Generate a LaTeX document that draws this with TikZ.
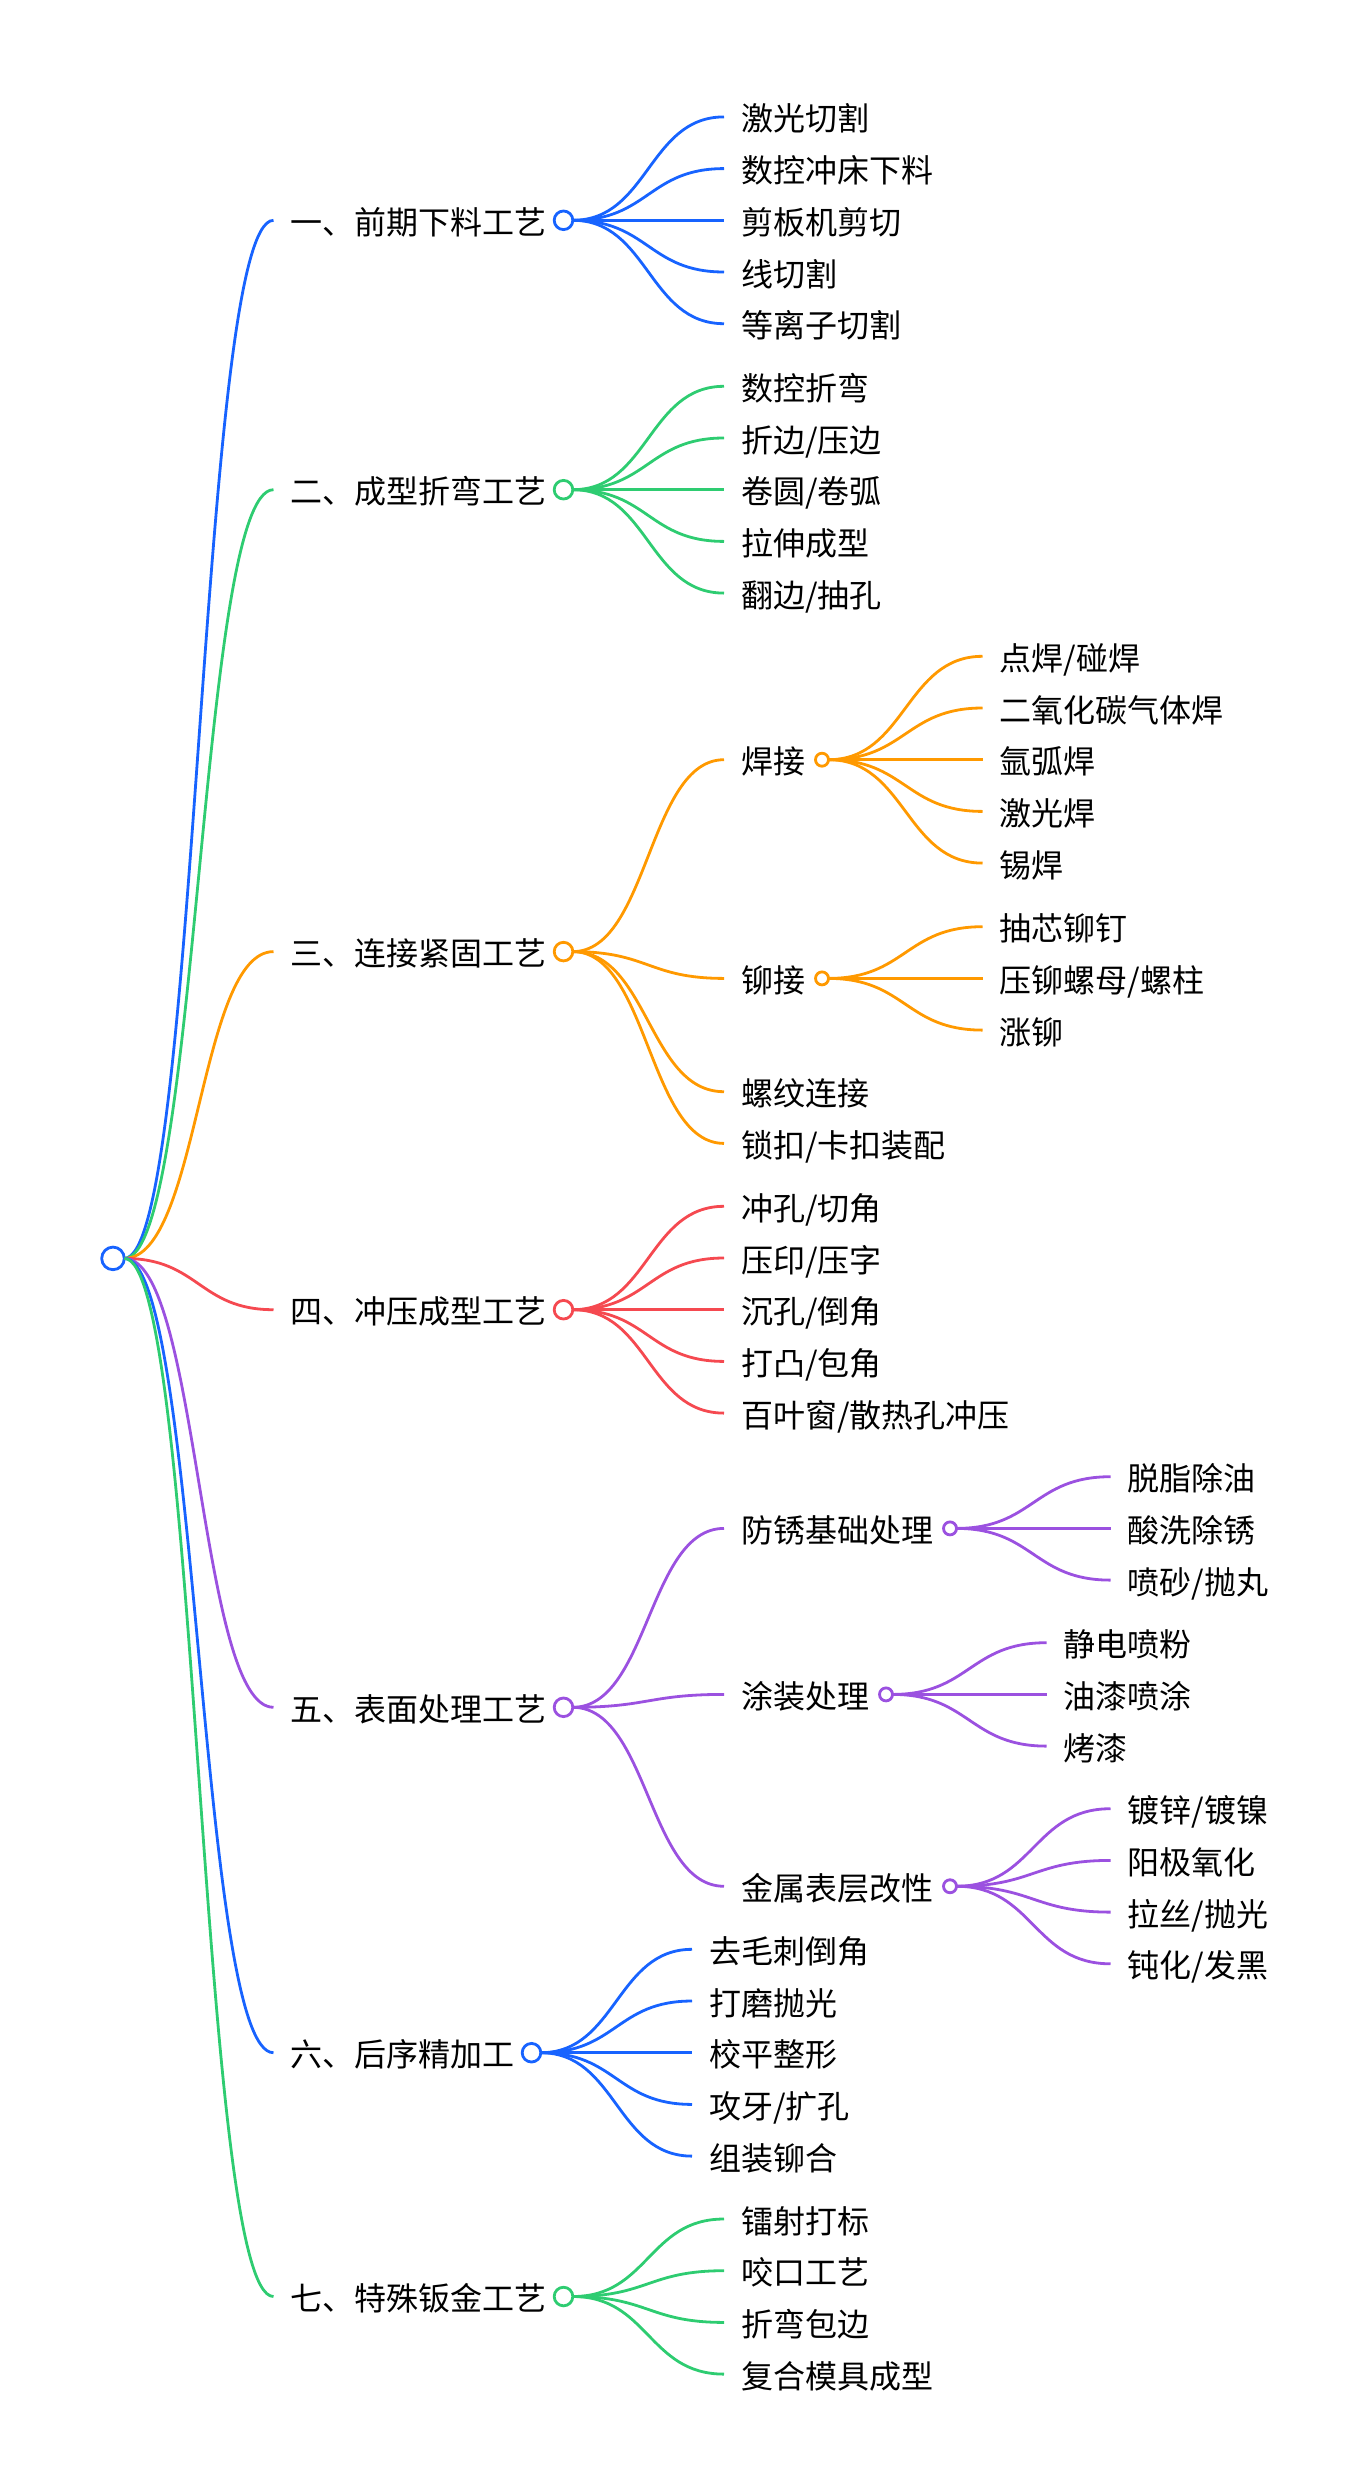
\documentclass[tikz,border=0pt]{standalone}
\usepackage{fontspec}
\setmainfont{Noto Sans CJK SC}
\usetikzlibrary{calc}
\definecolor{cb}{RGB}{23,99,255}
\definecolor{cg}{RGB}{46,204,113}
\definecolor{co}{RGB}{255,153,0}
\definecolor{cr}{RGB}{245,73,80}
\definecolor{cp}{RGB}{155,81,224}
\tikzset{
  lbl/.style={anchor=west, inner sep=0pt, outer xsep=17pt, outer ysep=0pt,
    font=\fontsize{32}{38}\selectfont, text height=32pt, text depth=4pt, text=black},
  hub/.style={circle, draw=#1, fill=white, line width=2.8pt, inner sep=0pt, outer sep=0pt, minimum size=18.6pt},
  hubs/.style={hub=#1, minimum size=13pt},
  rootdot/.style={hub=#1, minimum size=22.6pt},
  link/.style={draw=#1, line width=2.8pt},
}
\newcommand\mmlink[3]{\draw[link=#1] let \p1=(#2.east), \p2=(#3.west) in (\p1) .. controls ({(\x1+\x2)/2},\y1) and ({(\x1+\x2)/2},\y2) .. (\p2);}
\begin{document}
\begin{tikzpicture}[x=1pt,y=-1pt]
\useasboundingbox (0,0) rectangle (1366,2492);
\node[rootdot=cb] (root) at (113,1258.4) {};

% ---------- level 1
\node[lbl] (t1) at (273.5,220.3) {一、前期下料工艺};
\node[hub=cb] (c1) at (t1.east) {};
\node[lbl] (t2) at (273.5,489.7) {二、成型折弯工艺};
\node[hub=cg] (c2) at (t2.east) {};
\node[lbl] (t3) at (273.5,951.6) {三、连接紧固工艺};
\node[hub=co] (c3) at (t3.east) {};
\node[lbl] (t4) at (273.5,1309.7) {四、冲压成型工艺};
\node[hub=cr] (c4) at (t4.east) {};
\node[lbl] (t5) at (273.5,1707.3) {五、表面处理工艺};
\node[hub=cp] (c5) at (t5.east) {};
\node[lbl] (t6) at (273.5,2052.7) {六、后序精加工};
\node[hub=cb] (c6) at (t6.east) {};
\node[lbl] (t7) at (273.5,2296.5) {七、特殊钣金工艺};
\node[hub=cg] (c7) at (t7.east) {};

\mmlink{cb}{root}{t1}
\mmlink{cg}{root}{t2}
\mmlink{co}{root}{t3}
\mmlink{cr}{root}{t4}
\mmlink{cp}{root}{t5}
\mmlink{cb}{root}{t6}
\mmlink{cg}{root}{t7}

% ---------- group 1
\node[lbl] (t1a) at (724,116.9) {激光切割};
\node[lbl] (t1b) at (724,168.6) {数控冲床下料};
\node[lbl] (t1c) at (724,220.3) {剪板机剪切};
\node[lbl] (t1d) at (724,272.0) {线切割};
\node[lbl] (t1e) at (724,323.7) {等离子切割};
\foreach \nd in {t1a,t1b,t1c,t1d,t1e} {\mmlink{cb}{c1}{\nd}}

% ---------- group 2
\node[lbl] (t2a) at (724,386.3) {数控折弯};
\node[lbl] (t2b) at (724,438.0) {折边/压边};
\node[lbl] (t2c) at (724,489.7) {卷圆/卷弧};
\node[lbl] (t2d) at (724,541.4) {拉伸成型};
\node[lbl] (t2e) at (724,593.1) {翻边/抽孔};
\foreach \nd in {t2a,t2b,t2c,t2d,t2e} {\mmlink{cg}{c2}{\nd}}

% ---------- group 3
\node[lbl] (t3a) at (724,759.7) {焊接};
\node[hubs=co] (c3a) at (t3a.east) {};
\node[lbl] (t3b) at (724,978.4) {铆接};
\node[hubs=co] (c3b) at (t3b.east) {};
\node[lbl] (t3c) at (724,1091.7) {螺纹连接};
\node[lbl] (t3d) at (724,1143.4) {锁扣/卡扣装配};
\foreach \nd in {t3a,t3b,t3c,t3d} {\mmlink{co}{c3}{\nd}}

\node[lbl] (t3a1) at (982.5,656.3) {点焊/碰焊};
\node[lbl] (t3a2) at (982.5,708.0) {二氧化碳气体焊};
\node[lbl] (t3a3) at (982.5,759.7) {氩弧焊};
\node[lbl] (t3a4) at (982.5,811.4) {激光焊};
\node[lbl] (t3a5) at (982.5,863.1) {锡焊};
\foreach \nd in {t3a1,t3a2,t3a3,t3a4,t3a5} {\mmlink{co}{c3a}{\nd}}

\node[lbl] (t3b1) at (982.5,926.7) {抽芯铆钉};
\node[lbl] (t3b2) at (982.5,978.4) {压铆螺母/螺柱};
\node[lbl] (t3b3) at (982.5,1030.1) {涨铆};
\foreach \nd in {t3b1,t3b2,t3b3} {\mmlink{co}{c3b}{\nd}}

% ---------- group 4
\node[lbl] (t4a) at (724,1206.3) {冲孔/切角};
\node[lbl] (t4b) at (724,1258.0) {压印/压字};
\node[lbl] (t4c) at (724,1309.7) {沉孔/倒角};
\node[lbl] (t4d) at (724,1361.4) {打凸/包角};
\node[lbl] (t4e) at (724,1413.1) {百叶窗/散热孔冲压};
\foreach \nd in {t4a,t4b,t4c,t4d,t4e} {\mmlink{cr}{c4}{\nd}}

% ---------- group 5
\node[lbl] (t5a) at (724,1528.4) {防锈基础处理};
\node[hubs=cp] (c5a) at (t5a.east) {};
\node[lbl] (t5b) at (724,1694.4) {涂装处理};
\node[hubs=cp] (c5b) at (t5b.east) {};
\node[lbl] (t5c) at (724,1886.25) {金属表层改性};
\node[hubs=cp] (c5c) at (t5c.east) {};
\foreach \nd in {t5a,t5b,t5c} {\mmlink{cp}{c5}{\nd}}

\node[lbl] (t5a1) at (1110.5,1476.7) {脱脂除油};
\node[lbl] (t5a2) at (1110.5,1528.4) {酸洗除锈};
\node[lbl] (t5a3) at (1110.5,1580.1) {喷砂/抛丸};
\foreach \nd in {t5a1,t5a2,t5a3} {\mmlink{cp}{c5a}{\nd}}

\node[lbl] (t5b1) at (1046.5,1642.7) {静电喷粉};
\node[lbl] (t5b2) at (1046.5,1694.4) {油漆喷涂};
\node[lbl] (t5b3) at (1046.5,1746.1) {烤漆};
\foreach \nd in {t5b1,t5b2,t5b3} {\mmlink{cp}{c5b}{\nd}}

\node[lbl] (t5c1) at (1110.5,1808.7) {镀锌/镀镍};
\node[lbl] (t5c2) at (1110.5,1860.4) {阳极氧化};
\node[lbl] (t5c3) at (1110.5,1912.1) {拉丝/抛光};
\node[lbl] (t5c4) at (1110.5,1963.8) {钝化/发黑};
\foreach \nd in {t5c1,t5c2,t5c3,t5c4} {\mmlink{cp}{c5c}{\nd}}

% ---------- group 6
\node[lbl] (t6a) at (692,1949.3) {去毛刺倒角};
\node[lbl] (t6b) at (692,2001.0) {打磨抛光};
\node[lbl] (t6c) at (692,2052.7) {校平整形};
\node[lbl] (t6d) at (692,2104.4) {攻牙/扩孔};
\node[lbl] (t6e) at (692,2156.1) {组装铆合};
\foreach \nd in {t6a,t6b,t6c,t6d,t6e} {\mmlink{cb}{c6}{\nd}}

% ---------- group 7
\node[lbl] (t7a) at (724,2219.0) {镭射打标};
\node[lbl] (t7b) at (724,2270.7) {咬口工艺};
\node[lbl] (t7c) at (724,2322.4) {折弯包边};
\node[lbl] (t7d) at (724,2374.1) {复合模具成型};
\foreach \nd in {t7a,t7b,t7c,t7d} {\mmlink{cg}{c7}{\nd}}
\end{tikzpicture}
\end{document}
